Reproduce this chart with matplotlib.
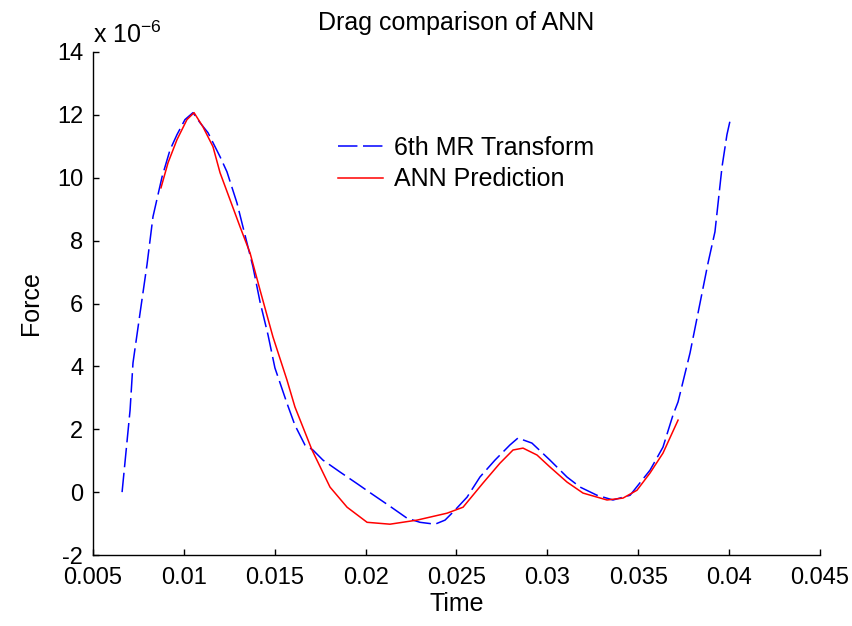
import matplotlib
matplotlib.use('Agg')
import matplotlib.pyplot as plt
import numpy as np

plt.rcParams['font.family'] = ['Liberation Sans', 'DejaVu Sans']
plt.rcParams['lines.scale_dashes'] = False
plt.rcParams['axes.unicode_minus'] = False

# 6th MR Transform (force in units of 1e-6)
time_mr = [0.00660, 0.00704, 0.00720, 0.00759, 0.00797, 0.00830, 0.00880, 0.00924,
           0.00962, 0.01006, 0.01050, 0.01089, 0.01133, 0.01199, 0.01237, 0.01292,
           0.01347, 0.01380, 0.01419, 0.01463, 0.01501, 0.01567, 0.01611, 0.01666,
           0.01710, 0.01765, 0.01859, 0.01958, 0.02035, 0.02134, 0.02228, 0.02299,
           0.02382, 0.02437, 0.02492, 0.02558, 0.02629, 0.02712, 0.02794, 0.02838,
           0.02915, 0.03014, 0.03108, 0.03180, 0.03273, 0.03361, 0.03455, 0.03565,
           0.03636, 0.03691, 0.03719, 0.03785, 0.03829, 0.03884, 0.03922, 0.03961,
           0.03988, 0.04010]
force_mr = [0.0, 2.61, 4.11, 5.70, 7.23, 8.76, 10.03, 10.89,
            11.37, 11.85, 12.07, 11.75, 11.43, 10.67, 10.19, 9.20,
            7.93, 7.17, 6.05, 5.00, 3.95, 2.83, 2.13, 1.50,
            1.34, 1.02, 0.64, 0.25, -0.06, -0.45, -0.83, -0.96,
            -1.02, -0.89, -0.57, -0.16, 0.48, 1.02, 1.50, 1.72,
            1.56, 1.02, 0.48, 0.16, -0.10, -0.25, -0.10, 0.70,
            1.43, 2.45, 2.87, 4.43, 5.70, 7.29, 8.28, 10.35,
            11.37, 11.94]

# ANN prediction
time_ann = [0.00874, 0.00913, 0.00962, 0.01017, 0.01056, 0.01105, 0.01160, 0.01199,
            0.01254, 0.01309, 0.01364, 0.01419, 0.01490, 0.01567, 0.01611, 0.01705,
            0.01804, 0.01898, 0.02008, 0.02134, 0.02283, 0.02448, 0.02536, 0.02646,
            0.02739, 0.02811, 0.02866, 0.02943, 0.03014, 0.03108, 0.03196, 0.03328,
            0.03416, 0.03493, 0.03565, 0.03636, 0.03719]
force_ann = [9.68, 10.48, 11.21, 11.85, 12.07, 11.62, 10.99, 10.16,
             9.30, 8.44, 7.61, 6.43, 4.94, 3.57, 2.71, 1.34,
             0.16, -0.48, -0.96, -1.02, -0.89, -0.67, -0.48, 0.29,
             0.92, 1.34, 1.40, 1.18, 0.80, 0.32, -0.03, -0.25,
             -0.19, 0.06, 0.61, 1.24, 2.29]

fs = 18
fig = plt.figure(figsize=(8.53, 6.26), dpi=100)
ax = fig.add_axes([93 / 853, 1 - 555 / 626, 727 / 853, 503 / 626])

ax.plot(time_mr, force_mr, color='blue', linewidth=1.1, dashes=(14, 4),
        label='6th MR Transform')
ax.plot(time_ann, force_ann, color='red', linewidth=1.1, label='ANN Prediction')

ax.set_xlim(0.005, 0.045)
ax.set_ylim(-2, 14)
ax.set_xticks(np.arange(0.005, 0.0451, 0.005))
ax.set_xticklabels(['0.005', '0.01', '0.015', '0.02', '0.025', '0.03', '0.035', '0.04', '0.045'])
ax.set_yticks(np.arange(-2, 15, 2))

for side in ['top', 'right']:
    ax.spines[side].set_visible(False)
for side in ['left', 'bottom']:
    ax.spines[side].set_linewidth(1.0)
ax.tick_params(direction='in', length=4, width=1.0, labelsize=17)
ax.tick_params(axis='x', pad=9)
ax.tick_params(axis='y', pad=7)

ax.set_xlabel('Time', fontsize=fs, labelpad=2)
ax.set_ylabel('Force', fontsize=fs, labelpad=10)
ax.set_title('Drag comparison of ANN', fontsize=fs, pad=16)
fig.text(93 / 853, 1 - 43 / 626, r'x 10$^{\mathregular{-6}}$', fontsize=fs,
         ha='left', va='baseline')

ax.legend(loc='upper left', bbox_to_anchor=(338 / 853, 1 - 136 / 626),
          bbox_transform=fig.transFigure, frameon=False, fontsize=fs,
          borderpad=0, borderaxespad=0, labelspacing=0.3,
          handlelength=1.8, handletextpad=0.45)

fig.savefig('out.png', dpi=100, facecolor='white')
